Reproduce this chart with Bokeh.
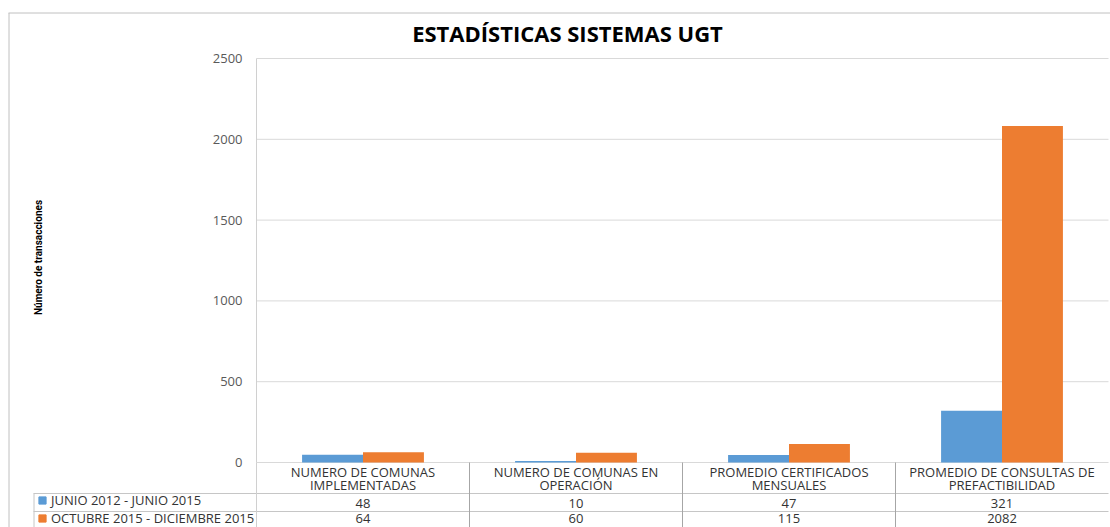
import math
from bokeh.plotting import figure
from bokeh.models import (Range1d, FixedTicker, Legend, LegendItem, LinearAxis,
                          ColumnDataSource)
from bokeh.core.properties import value
from bokeh.embed import file_html
from bokeh.resources import INLINE

# ---------------- data ----------------
categories = [
    "NUMERO DE COMUNAS IMPLEMENTADAS",
    "NUMERO DE COMUNAS EN OPERACIÓN",
    "PROMEDIO CERTIFICADOS MENSUALES",
    "PROMEDIO DE CONSULTAS DE PREFACTIBILIDAD",
]
category_labels = [
    "NUMERO DE COMUNAS\nIMPLEMENTADAS",
    "NUMERO DE COMUNAS EN\nOPERACIÓN",
    "PROMEDIO CERTIFICADOS\nMENSUALES",
    "PROMEDIO DE CONSULTAS DE\nPREFACTIBILIDAD",
]
series_names = ["JUNIO 2012 - JUNIO 2015", "OCTUBRE 2015 - DICIEMBRE 2015"]
junio = [48, 10, 47, 321]
octubre = [64, 60, 115, 2082]
y_ticks = [0, 500, 1000, 1500, 2000, 2500]
title_text = "ESTADÍSTICAS SISTEMAS UGT"
y_title = "Número de transacciones"

# ---------------- style / layout (page pixels) ----------------
W, H = 1110, 527
PLOT_L, PLOT_R, PLOT_T, PLOT_B = 256, 1108, 58, 462   # plot area
TBL_L = 33                                            # table left edge
ROW1, ROW2 = 493, 511                                 # table row bottoms
colors = ["#5B9BD5", "#ED7D31"]
FONT = "Open Sans"
TXT = "#333333"
GRID = "#d9d9d9"
TLINE = "#c6c6c6"
bar_w = 0.286

n = len(categories)
cat_px = (PLOT_R - PLOT_L) / n
ppu = (PLOT_B - PLOT_T) / 2500.0
x_range = Range1d(-PLOT_L / cat_px, n + (W - PLOT_R) / cat_px)
y_range = Range1d(-(H - PLOT_B) / ppu, 2500 + PLOT_T / ppu)

p = figure(width=W, height=H, x_range=x_range, y_range=y_range,
           x_axis_location=None, y_axis_location=None,
           toolbar_location=None, output_backend="svg",
           min_border_left=0, min_border_right=0, min_border_top=0, min_border_bottom=0)
p.outline_line_color = None
p.grid.visible = False
p.extra_x_ranges = {"px": Range1d(0, W)}
p.extra_y_ranges = {"px": Range1d(H, 0)}

xpos = [i + 0.5 for i in range(n)]

# y axis at the plot's left edge
yaxis = LinearAxis(fixed_location=0, bounds=(0, 2500), ticker=FixedTicker(ticks=y_ticks))
yaxis.major_tick_out = 0
yaxis.major_tick_in = 0
yaxis.minor_tick_line_color = None
yaxis.major_tick_line_color = None
yaxis.axis_line_color = "#d0d0d0"
yaxis.major_label_text_font = FONT
yaxis.major_label_text_font_size = "13px"
yaxis.major_label_text_color = "#595959"
yaxis.major_label_standoff = 14
p.add_layout(yaxis, "left")

# horizontal gridlines (plot area only)
p.segment(x0=0, x1=n, y0=y_ticks, y1=y_ticks, line_color=GRID, line_width=1)

# bars
src = ColumnDataSource(dict(
    x=xpos, lab=category_labels, junio=junio, octubre=octubre,
    jl=[str(v) for v in junio], ol=[str(v) for v in octubre],
    xb=[x - bar_w / 2 for x in xpos], xo=[x + bar_w / 2 for x in xpos]))
p.vbar(x="xb", top="junio", width=bar_w, source=src, fill_color=colors[0], line_color=None)
p.vbar(x="xo", top="octubre", width=bar_w, source=src, fill_color=colors[1], line_color=None)

# title and y-axis title
p.text(x=[(8 + W) / 2 + 8], y=[32.5], text=[title_text], x_range_name="px", y_range_name="px",
       text_align="center", text_baseline="middle", text_font=value(FONT),
       text_font_style="bold", text_font_size="22px", text_color="#000000")
p.text(x=[38], y=[(PLOT_T + PLOT_B) / 2 - 3], text=[y_title], x_range_name="px", y_range_name="px",
       angle=math.pi / 2, text_align="center", text_baseline="middle",
       text_font=value("Roboto"), text_font_style="bold", text_font_size="10px",
       text_color="#000000")

# outer chart border
p.segment(x0=[8.5, 8], x1=[8.5, W], y0=[12.5, 12.5], y1=[H, 12.5],
          x_range_name="px", y_range_name="px", line_color="#c0c0c0", line_width=1)

# ---------------- data table ----------------
p.segment(x0=[TBL_L, TBL_L], x1=[PLOT_R, PLOT_R], y0=[ROW1, ROW2], y1=[ROW1, ROW2],
          x_range_name="px", y_range_name="px", line_color=TLINE, line_width=1)
p.segment(x0=[TBL_L + 0.5], x1=[TBL_L + 0.5], y0=[ROW1], y1=[H],
          x_range_name="px", y_range_name="px", line_color=TLINE, line_width=1)
p.segment(x0=[0], x1=[0], y0=[PLOT_B], y1=[H], y_range_name="px",
          line_color="#d0d0d0", line_width=1)
p.segment(x0=list(range(1, n)), x1=list(range(1, n)), y0=PLOT_B, y1=H, y_range_name="px",
          line_color="#a6a6a6", line_width=1)

p.text(x="x", y=(PLOT_B + ROW1) / 2 + 0.5, text="lab", source=src, y_range_name="px",
       text_align="center", text_baseline="middle", text_font=value(FONT),
       text_font_size="13px", text_color=TXT, text_line_height=0.7)
p.text(x="x", y=(ROW1 + ROW2) / 2 + 0.5, text="jl", source=src, y_range_name="px",
       text_align="center", text_baseline="middle", text_font=value(FONT),
       text_font_size="13px", text_color=TXT)
p.text(x="x", y=ROW2 + 7, text="ol", source=src, y_range_name="px",
       text_align="center", text_baseline="middle", text_font=value(FONT),
       text_font_size="13px", text_color=TXT)

# legend keys in the table's left column (markers parked off-canvas)
m1 = p.scatter(x=[-100], y=[-100], x_range_name="px", y_range_name="px", marker="square",
               fill_color=colors[0], line_color=colors[0])
m2 = p.scatter(x=[-100], y=[-100], x_range_name="px", y_range_name="px", marker="square",
               fill_color=colors[1], line_color=colors[1])
leg = Legend(items=[LegendItem(label=series_names[0], renderers=[m1]),
                    LegendItem(label=series_names[1], renderers=[m2])],
             location=(TBL_L, 0), orientation="vertical",
             padding=0, spacing=0, margin=0, label_standoff=0,
             glyph_width=18, glyph_height=18, label_height=18,
             label_text_font=FONT, label_text_font_size="13px",
             label_text_color=TXT, border_line_color=None, background_fill_alpha=0)
p.add_layout(leg)

open("out.html", "w").write(file_html(p, INLINE))
